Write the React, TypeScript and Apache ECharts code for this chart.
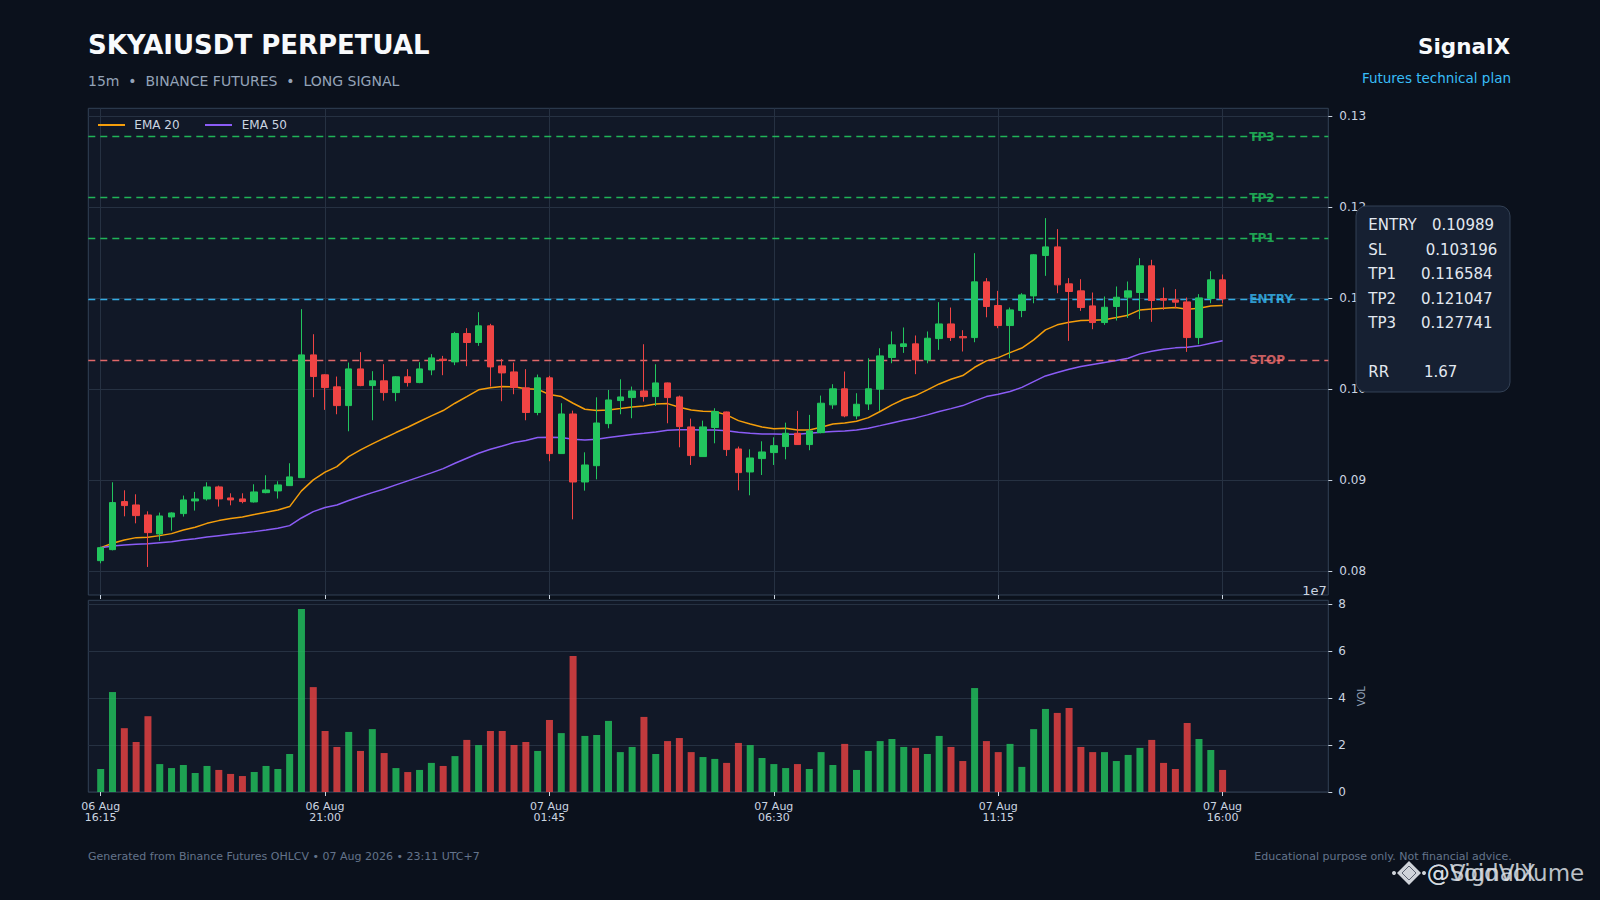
import React, { useEffect, useRef } from "react";
import * as echarts from "echarts";

// ---------- DATA ----------
const opens = [
  0.08117, 0.08238, 0.08766, 0.08729, 0.08619, 0.0841, 0.08597, 0.08634, 0.08773, 0.08795,
  0.08927, 0.08806, 0.08795, 0.08762, 0.08864, 0.08883, 0.08941, 0.09029, 0.10377, 0.10158,
  0.10026, 0.0982, 0.10223, 0.1004, 0.10092, 0.09963, 0.10136, 0.10073, 0.10212, 0.1033,
  0.103, 0.10612, 0.10513, 0.10696, 0.10256, 0.1019, 0.10015, 0.09744, 0.10125, 0.09293,
  0.09728, 0.08981, 0.0916, 0.09622, 0.09875, 0.09908, 0.09981, 0.09919, 0.10069, 0.09915,
  0.09586, 0.0926, 0.09579, 0.0975, 0.09344, 0.09091, 0.09238, 0.09304, 0.0937, 0.09516,
  0.09392, 0.09523, 0.09828, 0.10004, 0.09707, 0.09838, 0.1, 0.10348, 0.10469, 0.10498,
  0.10322, 0.10556, 0.10717, 0.10578, 0.10567, 0.11179, 0.10919, 0.10699, 0.10864, 0.11025,
  0.11468, 0.11563, 0.11157, 0.1108, 0.10915, 0.10732, 0.10908, 0.1101, 0.11062, 0.11355,
  0.10996, 0.10981, 0.10959, 0.10567, 0.10996, 0.11201,
];
const highs = [
  0.08271, 0.08978, 0.0889, 0.08846, 0.08659, 0.08645, 0.08648, 0.08832, 0.08872, 0.08978,
  0.08941, 0.08857, 0.08857, 0.08956, 0.09055, 0.08989, 0.09187, 0.10879, 0.10604, 0.10165,
  0.10139, 0.10293, 0.10407, 0.10198, 0.10275, 0.10143, 0.1022, 0.10297, 0.10385, 0.10366,
  0.1063, 0.1067, 0.10846, 0.10718, 0.10333, 0.10293, 0.1022, 0.10161, 0.10147, 0.09846,
  0.09765, 0.09307, 0.09911, 0.09992, 0.10109, 0.10029, 0.10494, 0.10274, 0.10073, 0.0993,
  0.09677, 0.09655, 0.09791, 0.09754, 0.0937, 0.0934, 0.09428, 0.09472, 0.09633, 0.09762,
  0.09718, 0.0993, 0.10055, 0.10194, 0.09956, 0.1034, 0.1045, 0.10634, 0.10678, 0.1059,
  0.10634, 0.10956, 0.10897, 0.10648, 0.11494, 0.1122, 0.1108, 0.10897, 0.11055, 0.11483,
  0.11879, 0.11758, 0.1122, 0.11208, 0.11062, 0.11018, 0.11128, 0.11183, 0.11439, 0.11421,
  0.11117, 0.11099, 0.11007, 0.11044, 0.11296, 0.1126,
];
const lows = [
  0.08088, 0.0823, 0.08604, 0.08527, 0.08048, 0.08337, 0.08447, 0.08601, 0.08667, 0.08777,
  0.08711, 0.08725, 0.08747, 0.08755, 0.08857, 0.08799, 0.08938, 0.09029, 0.09912, 0.09773,
  0.09725, 0.09538, 0.10033, 0.09659, 0.09875, 0.09868, 0.10029, 0.10066, 0.10154, 0.10154,
  0.10264, 0.10253, 0.10476, 0.10029, 0.09868, 0.09945, 0.09659, 0.09714, 0.09209, 0.0929,
  0.08571, 0.08886, 0.0901, 0.09571, 0.09725, 0.09681, 0.09864, 0.09816, 0.09626, 0.09362,
  0.09168, 0.09256, 0.09406, 0.09267, 0.0889, 0.08835, 0.09058, 0.09168, 0.0923, 0.09389,
  0.0933, 0.09516, 0.09784, 0.09692, 0.0967, 0.09772, 0.09762, 0.10285, 0.10399, 0.10165,
  0.10285, 0.10432, 0.1053, 0.10414, 0.10516, 0.1079, 0.1067, 0.1034, 0.10791, 0.10944,
  0.11245, 0.11054, 0.10531, 0.1086, 0.10659, 0.10707, 0.10754, 0.10783, 0.10769, 0.1074,
  0.10872, 0.1089, 0.1041, 0.10494, 0.10944, 0.10944,
];
const closes = [
  0.0826, 0.08755, 0.08722, 0.08612, 0.08425, 0.08608, 0.08641, 0.08784, 0.08795, 0.08927,
  0.08795, 0.08784, 0.08766, 0.08872, 0.08894, 0.08949, 0.09037, 0.10377, 0.10139, 0.10018,
  0.0982, 0.10223, 0.1004, 0.10092, 0.09963, 0.10136, 0.10073, 0.10223, 0.10344, 0.10315,
  0.10612, 0.10513, 0.10696, 0.10245, 0.10179, 0.10018, 0.09744, 0.10125, 0.09293, 0.09728,
  0.08981, 0.09168, 0.09629, 0.09882, 0.09915, 0.09981, 0.09919, 0.10069, 0.09908, 0.09589,
  0.09271, 0.09586, 0.09754, 0.09337, 0.09084, 0.09245, 0.09311, 0.0938, 0.09516, 0.09392,
  0.09542, 0.09846, 0.10004, 0.09707, 0.09835, 0.10004, 0.10366, 0.10487, 0.10498, 0.10322,
  0.1056, 0.10717, 0.10567, 0.10564, 0.11179, 0.10908, 0.10699, 0.10871, 0.11036, 0.11476,
  0.11563, 0.11146, 0.11073, 0.10897, 0.10732, 0.109, 0.1101, 0.1108, 0.11355, 0.10974,
  0.10978, 0.10956, 0.10567, 0.11003, 0.11201, 0.10992,
];
const ema20 = [
  0.0826, 0.08308, 0.08344, 0.0837, 0.08374, 0.08392, 0.08414, 0.08454, 0.08484, 0.08527,
  0.08557, 0.08579, 0.08597, 0.08623, 0.08648, 0.08674, 0.08711, 0.08883, 0.09004, 0.0909,
  0.0915, 0.0926, 0.09333, 0.09399, 0.09462, 0.09524, 0.09582, 0.09645, 0.09707, 0.09766,
  0.09846, 0.09919, 0.09993, 0.10015, 0.10029, 0.10026, 0.10004, 0.1, 0.09941, 0.09919,
  0.09846, 0.0978, 0.09765, 0.09772, 0.09787, 0.09805, 0.09816, 0.09838, 0.09842, 0.09802,
  0.09772, 0.09758, 0.09754, 0.09718, 0.09655, 0.09619, 0.09586, 0.09567, 0.09571, 0.09553,
  0.09553, 0.09582, 0.09619, 0.0963, 0.09648, 0.09688, 0.09755, 0.09828, 0.0989, 0.0993,
  0.09993, 0.10058, 0.10109, 0.1015, 0.10241, 0.10311, 0.10347, 0.10402, 0.10452, 0.10542,
  0.10652, 0.10707, 0.10736, 0.10754, 0.10758, 0.10762, 0.10787, 0.10813, 0.10871, 0.10882,
  0.1089, 0.10897, 0.10879, 0.1089, 0.10915, 0.10919,
];
const ema50 = [
  0.0826, 0.08278, 0.08289, 0.08297, 0.08304, 0.08315, 0.08326, 0.08344, 0.08359, 0.08377,
  0.08392, 0.08407, 0.08421, 0.08436, 0.08454, 0.08473, 0.08502, 0.08586, 0.08656, 0.087,
  0.08729, 0.08777, 0.08821, 0.08864, 0.08905, 0.08949, 0.08993, 0.09037, 0.09081, 0.09128,
  0.09187, 0.09242, 0.09297, 0.09341, 0.09377, 0.09414, 0.09436, 0.09469, 0.09473, 0.09469,
  0.0945, 0.09443, 0.0945, 0.09469, 0.09487, 0.09502, 0.09516, 0.09531, 0.09549, 0.09556,
  0.09556, 0.09553, 0.09553, 0.09545, 0.09527, 0.09516, 0.09509, 0.09509, 0.09505, 0.09505,
  0.09516, 0.09527, 0.09535, 0.09542, 0.09553, 0.09571, 0.096, 0.0963, 0.09659, 0.09685,
  0.09718, 0.09755, 0.09787, 0.0982, 0.09872, 0.09919, 0.09945, 0.09974, 0.1002, 0.10084,
  0.10146, 0.10183, 0.10219, 0.10249, 0.10271, 0.10293, 0.10315, 0.1034, 0.10388, 0.10417,
  0.10439, 0.10454, 0.10461, 0.10476, 0.10505, 0.10531,
];
// volume in units of 1e7
const volume1e7 = [
  0.98, 4.26, 2.72, 2.13, 3.23, 1.19, 1.02, 1.15, 0.81, 1.11,
  0.94, 0.77, 0.68, 0.85, 1.11, 0.98, 1.62, 7.8, 4.47, 2.6,
  1.92, 2.56, 1.75, 2.68, 1.66, 1.02, 0.85, 0.94, 1.24, 1.11,
  1.53, 2.22, 2.0, 2.6, 2.6, 2.0, 2.13, 1.75, 3.07, 2.51,
  5.8, 2.39, 2.43, 3.03, 1.7, 1.92, 3.2, 1.62, 2.17, 2.3,
  1.7, 1.49, 1.41, 1.24, 2.09, 2.0, 1.45, 1.19, 1.02, 1.19,
  0.98, 1.7, 1.15, 2.05, 0.94, 1.75, 2.17, 2.26, 1.92, 1.88,
  1.62, 2.39, 1.92, 1.32, 4.43, 2.17, 1.7, 2.05, 1.07, 2.68,
  3.54, 3.37, 3.58, 1.92, 1.7, 1.7, 1.32, 1.58, 1.88, 2.22,
  1.24, 0.98, 2.94, 2.26, 1.79, 0.94,
];
const xTickIndex = [0, 19, 38, 57, 76, 95];
const xTickLabels = [
  "06 Aug\n16:15",
  "06 Aug\n21:00",
  "07 Aug\n01:45",
  "07 Aug\n06:30",
  "07 Aug\n11:15",
  "07 Aug\n16:00",
];
const priceTicks = [0.08, 0.09, 0.1, 0.11, 0.12, 0.13];
const volumeTicks = [0, 2, 4, 6, 8];
const levelNames = ["TP3", "TP2", "TP1", "ENTRY", "STOP"];
const levelPrices = [0.127741, 0.121047, 0.116584, 0.10989, 0.103196];
const planLabels = ["ENTRY", "SL", "TP1", "TP2", "TP3", "RR"];
const planValues = ["0.10989", "0.103196", "0.116584", "0.121047", "0.127741", "1.67"];

// ---------- STYLE / LAYOUT ----------
const FONT = "DejaVu Sans";
const BG = "#0b111c";
const PANEL = "#111827";
const GRID = "#263142";
const SPINE = "#334155";
const TXT = "#cbd5e1";
const GREEN = "#22c55e";
const RED = "#ef4444";
const levelColors = [GREEN, GREEN, GREEN, "#38bdf8", "#f87171"];

const X_MIN = -1.05;
const X_MAX = 103.95;
const Y_MIN = 0.0774;
const Y_MAX = 0.13085;
const VOL_MAX = 8.17;
const LEVEL_LABEL_X = 97.25;

const PLAN_VALUE_X = [1432, 1425.7, 1421, 1421, 1421, 1424];
const PLAN_Y = [224.6, 249.6, 273.9, 298.6, 322.9, 372.3];

function buildOption() {
  const candleData = opens.map((o, i) => [i, o, closes[i], lows[i], highs[i]]);
  const volData = volume1e7.map((v, i) => ({
    value: [i, v],
    itemStyle: { color: closes[i] >= opens[i] ? GREEN : RED, opacity: 0.8 },
  }));

  const txt = (text: string, x: number, y: number, size: number, fill: string, extra: any = {}) => ({
    type: "text",
    x,
    y,
    z: 100,
    silent: true,
    style: {
      text,
      fill,
      fontSize: size,
      fontFamily: FONT,
      align: "left",
      verticalAlign: "middle",
      ...extra,
    },
  });

  const graphic: any[] = [
    txt("SKYAIUSDT PERPETUAL", 88, 44.5, 26, "#f8fafc", { fontWeight: "bold" }),
    txt("15m  •  BINANCE FUTURES  •  LONG SIGNAL", 88, 80.7, 14, "#94a3b8"),
    txt("SignalX", 1510, 46.8, 21.5, "#f8fafc", { fontWeight: "bold", align: "right" }),
    txt("Futures technical plan", 1511, 77.8, 13.5, "#38bdf8", { align: "right" }),
    // legend
    { type: "line", z: 100, silent: true, shape: { x1: 98, y1: 125, x2: 125, y2: 125 }, style: { stroke: "#f59e0b", lineWidth: 2 } },
    txt("EMA 20", 134.3, 125, 12, TXT),
    { type: "line", z: 100, silent: true, shape: { x1: 205, y1: 125, x2: 232, y2: 125 }, style: { stroke: "#8b5cf6", lineWidth: 2 } },
    txt("EMA 50", 241.7, 125, 12, TXT),
    // info box
    {
      type: "rect",
      z: 99,
      silent: true,
      shape: { x: 1356, y: 206, width: 154, height: 186, r: 10 },
      style: { fill: "#162032", stroke: SPINE, lineWidth: 1 },
    },
    ...planLabels.map((l, i) => txt(l, 1368.3, PLAN_Y[i], 15, "#e2e8f0")),
    ...planValues.map((v, i) => txt(v, PLAN_VALUE_X[i], PLAN_Y[i], 15, "#e2e8f0")),
    // offset text
    txt("1e7", 1326.7, 590.5, 13, TXT, { align: "right" }),
    // footer
    txt("Generated from Binance Futures OHLCV • 07 Aug 2026 • 23:11 UTC+7", 88, 856.3, 11, "#64748b", { lineHeight: 11 }),
    txt("Educational purpose only. Not financial advice.", 1511.7, 856.3, 11, "#64748b", { align: "right", lineHeight: 11 }),
    // watermark logo
    {
      type: "polygon",
      z: 101,
      silent: true,
      shape: { points: [[1409, 861], [1421, 873], [1409, 885], [1397, 873]] },
      style: { fill: "#cfd3d9" },
    },
    {
      type: "polygon",
      z: 102,
      silent: true,
      shape: { points: [[1409, 866], [1416, 873], [1409, 880], [1402, 873]] },
      style: { fill: "none", stroke: "#5b6270", lineWidth: 1 },
    },
    { type: "circle", z: 102, silent: true, shape: { cx: 1394, cy: 873, r: 2 }, style: { fill: "#cfd3d9" } },
    { type: "circle", z: 102, silent: true, shape: { cx: 1424, cy: 873, r: 2 }, style: { fill: "#cfd3d9" } },
    txt("@VoidVolume", 1426.7, 872.5, 23, "rgba(220,224,230,0.85)", { lineHeight: 19 }),
    txt("@SignalX", 1426.7, 872.5, 23, "rgba(220,224,230,0.85)", { lineHeight: 19 }),
  ];

  const tick = (vals: number[]) => ({
    show: true,
    customValues: vals,
    length: 4,
    inside: false,
    lineStyle: { color: TXT },
  });

  return {
    animation: false,
    backgroundColor: BG,
    textStyle: { fontFamily: FONT },
    graphic,
    grid: [
      { left: 88.3, top: 108.3, width: 1240, height: 486.7, show: true, backgroundColor: PANEL, borderColor: SPINE, borderWidth: 1 },
      { left: 88.3, top: 600.3, width: 1240, height: 191.7, show: true, backgroundColor: PANEL, borderColor: SPINE, borderWidth: 1 },
    ],
    xAxis: [
      {
        type: "value",
        gridIndex: 0,
        position: "bottom",
        min: X_MIN,
        max: X_MAX,
        axisLine: { show: false, onZero: false },
        axisTick: tick(xTickIndex),
        axisLabel: { show: false },
        splitLine: { show: true, lineStyle: { color: GRID, width: 1 } },
      },
      {
        type: "value",
        gridIndex: 1,
        position: "bottom",
        min: X_MIN,
        max: X_MAX,
        axisLine: { show: false, onZero: false },
        axisTick: tick(xTickIndex),
        axisLabel: {
          show: true,
          customValues: xTickIndex,
          formatter: (v: number) => {
            const k = xTickIndex.indexOf(Math.round(v));
            return k >= 0 ? xTickLabels[k] : "";
          },
          color: TXT,
          fontSize: 11,
          lineHeight: 11,
          margin: 9,
          fontFamily: FONT,
        },
        splitLine: { show: false },
      },
    ],
    yAxis: [
      {
        type: "value",
        gridIndex: 0,
        position: "right",
        min: Y_MIN,
        max: Y_MAX,
        axisLine: { show: false, onZero: false },
        axisTick: tick(priceTicks),
        axisLabel: {
          customValues: priceTicks,
          formatter: (v: number) => v.toFixed(2),
          color: TXT,
          fontSize: 12,
          margin: 11,
          fontFamily: FONT,
        },
        splitLine: { show: true, lineStyle: { color: GRID, width: 1 } },
      },
      {
        type: "value",
        gridIndex: 1,
        position: "right",
        min: 0,
        max: VOL_MAX,
        axisLine: { show: false, onZero: false },
        axisTick: tick(volumeTicks),
        axisLabel: {
          customValues: volumeTicks,
          formatter: (v: number) => String(v),
          color: TXT,
          fontSize: 12,
          margin: 10,
          fontFamily: FONT,
        },
        splitLine: { show: true, lineStyle: { color: GRID, width: 1 } },
        name: "VOL",
        nameLocation: "middle",
        nameRotate: 90,
        nameGap: 13,
        nameTextStyle: { color: "#94a3b8", fontSize: 10, fontFamily: FONT },
      },
    ],
    series: [
      {
        name: "levels",
        type: "scatter",
        xAxisIndex: 0,
        yAxisIndex: 0,
        z: 2,
        symbolSize: 0.1,
        itemStyle: { color: "rgba(0,0,0,0)" },
        data: levelNames.map((n, i) => ({
          name: n,
          value: [LEVEL_LABEL_X, levelPrices[i]],
          label: { color: levelColors[i] },
        })),
        label: {
          show: true,
          position: "right",
          distance: 0,
          formatter: (p: any) => p.name,
          fontFamily: FONT,
          fontWeight: "bold",
          fontSize: 12,
        },
        markLine: {
          silent: true,
          precision: 6,
          symbol: ["none", "none"],
          label: { show: false },
          data: levelPrices.map((p, i) => ({
            yAxis: p,
            lineStyle: { color: levelColors[i], type: [7, 5], width: 1.3, opacity: 0.9 },
          })),
        },
      },
      {
        name: "EMA 20",
        type: "line",
        xAxisIndex: 0,
        yAxisIndex: 0,
        z: 3,
        showSymbol: false,
        symbol: "none",
        data: ema20.map((v, i) => [i, v]),
        lineStyle: { color: "#f59e0b", width: 1.5 },
      },
      {
        name: "EMA 50",
        type: "line",
        xAxisIndex: 0,
        yAxisIndex: 0,
        z: 3,
        showSymbol: false,
        symbol: "none",
        data: ema50.map((v, i) => [i, v]),
        lineStyle: { color: "#8b5cf6", width: 1.5 },
      },
      {
        name: "price",
        type: "candlestick",
        xAxisIndex: 0,
        yAxisIndex: 0,
        z: 5,
        barWidth: 7,
        encode: { x: 0, y: [1, 2, 3, 4] },
        data: candleData,
        itemStyle: { color: GREEN, color0: RED, borderColor: GREEN, borderColor0: RED, borderWidth: 1 },
      },
      {
        name: "volume",
        type: "bar",
        xAxisIndex: 1,
        yAxisIndex: 1,
        barWidth: 7,
        data: volData,
      },
    ],
  };
}

export default function App() {
  const ref = useRef<HTMLDivElement>(null);
  useEffect(() => {
    if (!ref.current) return;
    const chart = echarts.init(ref.current, undefined, { renderer: "svg" });
    chart.setOption(buildOption() as any);
    return () => chart.dispose();
  }, []);
  return (
    <div
      ref={ref}
      style={{ position: "fixed", left: 0, top: 0, width: 1600, height: 900, background: BG }}
    />
  );
}
